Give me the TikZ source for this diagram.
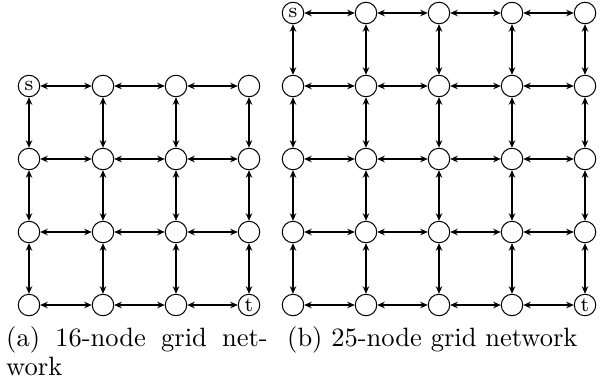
\documentclass[tikz,border=0pt]{standalone}
\usepackage{graphicx}
\usetikzlibrary{arrows.meta}
\newcommand{\nlab}[1]{\scalebox{2.6}{\fontsize{8}{8}\selectfont #1}}
\newcommand{\clab}[1]{\scalebox{2.65}{\fontsize{10}{11}\selectfont #1}}
\begin{document}
\begin{tikzpicture}[x=1pt,y=-1pt,
  vtx/.style={circle,draw,line width=1pt,minimum size=21.5pt,inner sep=0pt},
  edge/.style={line width=1.4pt,{Stealth[length=7.5pt,width=6.5pt]}-{Stealth[length=7.5pt,width=6.5pt]}},
  captext/.style={anchor=base west,inner sep=0pt}]
\useasboundingbox (0,0) rectangle (605,386);
% left grid (4x4)
\foreach \i/\x in {1/29,2/103,3/176,4/249}
  \foreach \j/\y in {1/86,2/159,3/232,4/305}
    \node[vtx] (a\i\j) at (\x,\y) {\ifnum\i\j=11 \nlab{s}\else\ifnum\i\j=44 \nlab{t}\fi\fi};
\foreach \i/\k in {1/2,2/3,3/4}
  \foreach \j in {1,2,3,4} {
    \draw[edge] (a\i\j) -- (a\k\j);
    \draw[edge] (a\j\i) -- (a\j\k);
  }
% right grid (5x5)
\foreach \i/\x in {1/293,2/366,3/439,4/512,5/585}
  \foreach \j/\y in {1/13,2/86,3/159,4/232,5/305}
    \node[vtx] (b\i\j) at (\x,\y) {\ifnum\i\j=11 \nlab{s}\else\ifnum\i\j=55 \nlab{t}\fi\fi};
\foreach \i/\k in {1/2,2/3,3/4,4/5}
  \foreach \j in {1,2,3,4,5} {
    \draw[edge] (b\i\j) -- (b\k\j);
    \draw[edge] (b\j\i) -- (b\j\k);
  }
% captions
\node[captext] (capa) at (6,346.5) {\clab{\hbox to 98.7pt{(a)\hfill 16-node\hfill grid\hfill net-}}};
\node[captext] (capa2) at (6,375) {\clab{work}};
\node[captext] (capb) at (287,346.5) {\clab{(b) 25-node grid network}};
\end{tikzpicture}
\end{document}
